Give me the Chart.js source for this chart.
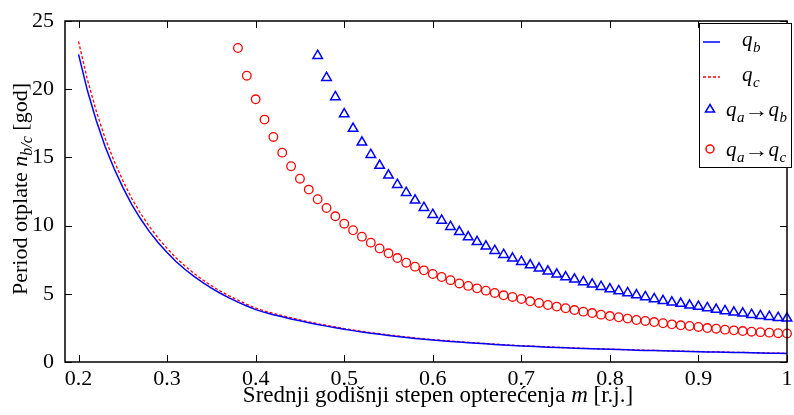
<!DOCTYPE html>
<html><head><meta charset="utf-8">
<script src="https://cdn.jsdelivr.net/npm/chart.js@4"></script>
<style>html,body{margin:0;padding:0;background:#fff;}canvas{display:block;}</style>
</head><body>
<div style="width:794px;height:415px"><canvas id="c" width="794" height="415"></canvas></div>
<script>
// m values (srednji godišnji stepen opterećenja)
const mValues = [0.20,0.21,0.22,0.23,0.24,0.25,0.26,0.27,0.28,0.29,0.30,0.31,0.32,0.33,0.34,0.35,0.36,0.37,0.38,0.39,
0.40,0.41,0.42,0.43,0.44,0.45,0.46,0.47,0.48,0.49,0.50,0.51,0.52,0.53,0.54,0.55,0.56,0.57,0.58,0.59,
0.60,0.61,0.62,0.63,0.64,0.65,0.66,0.67,0.68,0.69,0.70,0.71,0.72,0.73,0.74,0.75,0.76,0.77,0.78,0.79,
0.80,0.81,0.82,0.83,0.84,0.85,0.86,0.87,0.88,0.89,0.90,0.91,0.92,0.93,0.94,0.95,0.96,0.97,0.98,0.99,1.00];
// q_b
const qbValues = [22.55,19.9,17.7,15.8,14.2,12.8,11.55,10.5,9.56,8.74,8.03,7.37,6.80,6.29,5.83,5.41,5.04,4.70,4.39,4.11,
3.84,3.64,3.47,3.31,3.16,3.02,2.88,2.75,2.63,2.51,2.40,2.30,2.20,2.11,2.03,1.95,1.87,1.80,1.73,1.67,
1.61,1.56,1.51,1.46,1.41,1.37,1.33,1.29,1.25,1.21,1.18,1.15,1.12,1.09,1.06,1.04,1.01,0.99,0.97,0.95,
0.93,0.91,0.89,0.87,0.85,0.84,0.82,0.80,0.79,0.77,0.76,0.74,0.73,0.72,0.70,0.69,0.68,0.66,0.65,0.64,0.62];
// q_c
const qcValues = [23.5,20.7,18.4,16.4,14.75,13.3,12.0,10.9,9.93,9.07,8.33,7.64,7.05,6.51,6.03,5.59,5.20,4.85,4.53,4.23,
3.95,3.74,3.56,3.39,3.24,3.09,2.95,2.81,2.69,2.57,2.45,2.35,2.25,2.15,2.07,1.99,1.91,1.84,1.77,1.70,
1.64,1.59,1.54,1.49,1.44,1.40,1.35,1.31,1.27,1.23,1.20,1.17,1.14,1.11,1.08,1.05,1.03,1.00,0.98,0.96,
0.94,0.92,0.90,0.88,0.86,0.85,0.83,0.81,0.80,0.78,0.77,0.75,0.74,0.73,0.71,0.70,0.69,0.67,0.66,0.65,0.63];
// q_a -> q_b (m = 0.47 ... 1.00)
const mTri = [0.47,0.48,0.49,0.50,0.51,0.52,0.53,0.54,0.55,0.56,0.57,0.58,0.59,0.60,0.61,0.62,0.63,0.64,0.65,0.66,
0.67,0.68,0.69,0.70,0.71,0.72,0.73,0.74,0.75,0.76,0.77,0.78,0.79,0.80,0.81,0.82,0.83,0.84,0.85,0.86,
0.87,0.88,0.89,0.90,0.91,0.92,0.93,0.94,0.95,0.96,0.97,0.98,0.99,1.00];
const qabValues = [22.46,20.84,19.43,18.18,17.11,16.11,15.20,14.40,13.69,13.00,12.41,11.85,11.31,10.80,10.38,9.92,9.54,9.16,8.81,8.48,
8.16,7.87,7.60,7.35,7.11,6.87,6.65,6.43,6.23,6.06,5.87,5.70,5.52,5.35,5.21,5.06,4.91,4.77,4.62,4.49,
4.38,4.28,4.16,4.06,3.96,3.84,3.74,3.64,3.57,3.47,3.39,3.32,3.25,3.20];
// q_a -> q_c (m = 0.38 ... 1.00)
const mCirc = [0.38,0.39,0.40,0.41,0.42,0.43,0.44,0.45,0.46,0.47,0.48,0.49,0.50,0.51,0.52,0.53,0.54,0.55,0.56,0.57,
0.58,0.59,0.60,0.61,0.62,0.63,0.64,0.65,0.66,0.67,0.68,0.69,0.70,0.71,0.72,0.73,0.74,0.75,0.76,0.77,
0.78,0.79,0.80,0.81,0.82,0.83,0.84,0.85,0.86,0.87,0.88,0.89,0.90,0.91,0.92,0.93,0.94,0.95,0.96,0.97,
0.98,0.99,1.00];
const qacValues = [23.02,20.99,19.26,17.77,16.50,15.35,14.35,13.44,12.64,11.93,11.29,10.68,10.14,9.66,9.19,8.75,8.33,7.97,7.62,7.28,
6.99,6.72,6.45,6.23,6.00,5.76,5.58,5.40,5.23,5.06,4.89,4.77,4.62,4.45,4.33,4.18,4.06,3.94,3.81,3.69,
3.59,3.47,3.37,3.28,3.18,3.08,3.01,2.93,2.84,2.76,2.69,2.64,2.57,2.49,2.44,2.37,2.32,2.27,2.22,2.19,
2.15,2.11,2.09];

const xTicks = [0.2,0.3,0.4,0.5,0.6,0.7,0.8,0.9,1.0];
const xTickLabels = ['0.2','0.3','0.4','0.5','0.6','0.7','0.8','0.9','1'];
const yTicks = [0,5,10,15,20,25];
const yTickLabels = ['0','5','10','15','20','25'];

const SERIF = "'Liberation Serif','DejaVu Serif',serif";
const BLUE = '#0000ff', RED = '#ff0000';

function pts(xs, ys){ return xs.map((x,i)=>({x:x, y:ys[i]})); }

function drawQ(ctx, x, base, sub){
  ctx.font = "italic 21px " + SERIF;
  ctx.fillText('q', x, base);
  x += ctx.measureText('q').width + 0.5;
  ctx.font = "italic 15px " + SERIF;
  ctx.fillText(sub, x, base + 6);
  return x + ctx.measureText(sub).width;
}
function drawArrow(ctx, x, base){
  ctx.font = "20px " + SERIF;
  const w = ctx.measureText('\u2192').width;
  ctx.save();
  ctx.translate(x, base);
  ctx.scale(1.2, 1);
  ctx.fillText('\u2192', 0, 0);
  ctx.restore();
  return x + w * 1.2;
}
function line(ctx,x1,y1,x2,y2){ctx.beginPath();ctx.moveTo(x1,y1);ctx.lineTo(x2,y2);ctx.stroke();}

const framePlugin = {
  id:'frame',
  afterDraw(chart){
    const {ctx, chartArea:a, scales:{x,y}} = chart;
    ctx.save();
    ctx.strokeStyle = '#000'; ctx.fillStyle = '#000';
    ctx.lineWidth = 1;
    const tl = 7;
    xTicks.forEach(v=>{
      const px = Math.round(x.getPixelForValue(v)) + 0.5;
      line(ctx, px, a.bottom, px, a.bottom - tl);
      line(ctx, px, a.top, px, a.top + tl);
    });
    yTicks.forEach(v=>{
      const py = Math.round(y.getPixelForValue(v)) + 0.5;
      line(ctx, a.left, py, a.left + tl, py);
      line(ctx, a.right, py, a.right - tl, py);
    });
    ctx.lineWidth = 1.5;
    ctx.strokeRect(a.left, a.top, a.right - a.left, a.bottom - a.top);

    // legend
    const L = {x:699, y:23, w:92, h:144};
    ctx.fillStyle = '#fff';
    ctx.fillRect(L.x, L.y, L.w, L.h);
    ctx.lineWidth = 1;
    ctx.strokeStyle = '#000';
    ctx.strokeRect(L.x + 0.5, L.y + 0.5, L.w, L.h);
    ctx.fillStyle = '#000';
    ctx.textBaseline = 'alphabetic';
    ctx.textAlign = 'left';
    // entry 1
    ctx.strokeStyle = BLUE; ctx.lineWidth = 1.5; ctx.setLineDash([]);
    line(ctx, 703, 42, 720, 42);
    drawQ(ctx, 742, 46, 'b');
    // entry 2
    ctx.strokeStyle = RED; ctx.lineWidth = 1.3; ctx.setLineDash([3,2]);
    line(ctx, 703, 77, 720, 77);
    ctx.setLineDash([]);
    drawQ(ctx, 742, 81, 'c');
    // entry 3
    ctx.strokeStyle = BLUE; ctx.lineWidth = 1.5;
    ctx.beginPath(); ctx.moveTo(710, 104.5); ctx.lineTo(714.5, 112); ctx.lineTo(705.5, 112); ctx.closePath(); ctx.stroke();
    let xx = drawQ(ctx, 726, 116, 'a');
    xx = drawArrow(ctx, xx, 117);
    drawQ(ctx, xx, 116, 'b');
    // entry 4
    ctx.strokeStyle = RED;
    ctx.beginPath(); ctx.arc(710, 149, 4, 0, Math.PI*2); ctx.stroke();
    xx = drawQ(ctx, 726, 156, 'a');
    xx = drawArrow(ctx, xx, 157);
    drawQ(ctx, xx, 156, 'c');

    // x axis title
    ctx.fillStyle = '#000';
    const segX = [["23px ", 'Srednji godišnji stepen opterećenja '], ["italic 23px ", 'm'], ["23px ", ' [r.j.]']];
    let tw = 0;
    segX.forEach(s=>{ctx.font = s[0]+SERIF; tw += ctx.measureText(s[1]).width;});
    let cx = 438 - tw/2;
    segX.forEach(s=>{ctx.font = s[0]+SERIF; ctx.fillText(s[1], cx, 402); cx += ctx.measureText(s[1]).width;});

    // y axis title
    ctx.save();
    ctx.translate(27, 189);
    ctx.rotate(-Math.PI/2);
    const segY = [["22px ", 'Period otplate ', 0], ["italic 22px ", 'n', 0], ["italic 16px ", 'b/c', 5], ["22px ", ' [god]', 0]];
    tw = 0;
    segY.forEach(s=>{ctx.font = s[0]+SERIF; tw += ctx.measureText(s[1]).width;});
    cx = -tw/2;
    segY.forEach(s=>{ctx.font = s[0]+SERIF; ctx.fillText(s[1], cx, s[2]); cx += ctx.measureText(s[1]).width;});
    ctx.restore();

    ctx.restore();
  }
};

new Chart(document.getElementById('c'), {
  type:'scatter',
  data:{datasets:[
    {label:'q_b', data:pts(mValues, qbValues), showLine:true, borderColor:BLUE, backgroundColor:BLUE, borderWidth:1.5, pointRadius:0, tension:0, fill:false},
    {label:'q_c', data:pts(mValues, qcValues), showLine:true, borderColor:RED, backgroundColor:RED, borderWidth:1.3, borderDash:[3,2], pointRadius:0, tension:0, fill:false},
    {label:'q_a->q_b', data:pts(mTri, qabValues), showLine:false, pointStyle:'triangle', pointRadius:5.5, pointBorderWidth:1.5, borderColor:BLUE, backgroundColor:'rgba(0,0,0,0)', clip:false},
    {label:'q_a->q_c', data:pts(mCirc, qacValues), showLine:false, pointStyle:'circle', pointRadius:4.3, pointBorderWidth:1.3, borderColor:RED, backgroundColor:'rgba(0,0,0,0)', clip:false}
  ]},
  options:{
    responsive:false, animation:false, devicePixelRatio:1,
    layout:{padding:{top:21, right:1, left:0, bottom:0}},
    plugins:{legend:{display:false}, tooltip:{enabled:false}},
    events:[],
    scales:{
      x:{type:'linear', min:0.1847, max:1.0,
        afterFit:(s)=>{s.height = 53;},
        afterBuildTicks:(s)=>{s.ticks = xTicks.map(v=>({value:v}));},
        ticks:{callback:(v)=>{const i = xTicks.findIndex(t=>Math.abs(t-v)<1e-9); return i>=0 ? xTickLabels[i] : '';},
          font:{family:SERIF, size:22}, color:'#000', padding:-4, autoSkip:false, maxRotation:0},
        grid:{display:false}, border:{display:false}},
      y:{type:'linear', min:0, max:25,
        afterFit:(s)=>{s.width = 65;},
        afterBuildTicks:(s)=>{s.ticks = yTicks.map(v=>({value:v}));},
        ticks:{callback:(v)=>{const i = yTicks.indexOf(v); return i>=0 ? yTickLabels[i] : '';},
          font:{family:SERIF, size:22}, color:'#000', padding:3},
        grid:{display:false}, border:{display:false}}
    }
  },
  plugins:[framePlugin]
});
</script>
</body></html>
